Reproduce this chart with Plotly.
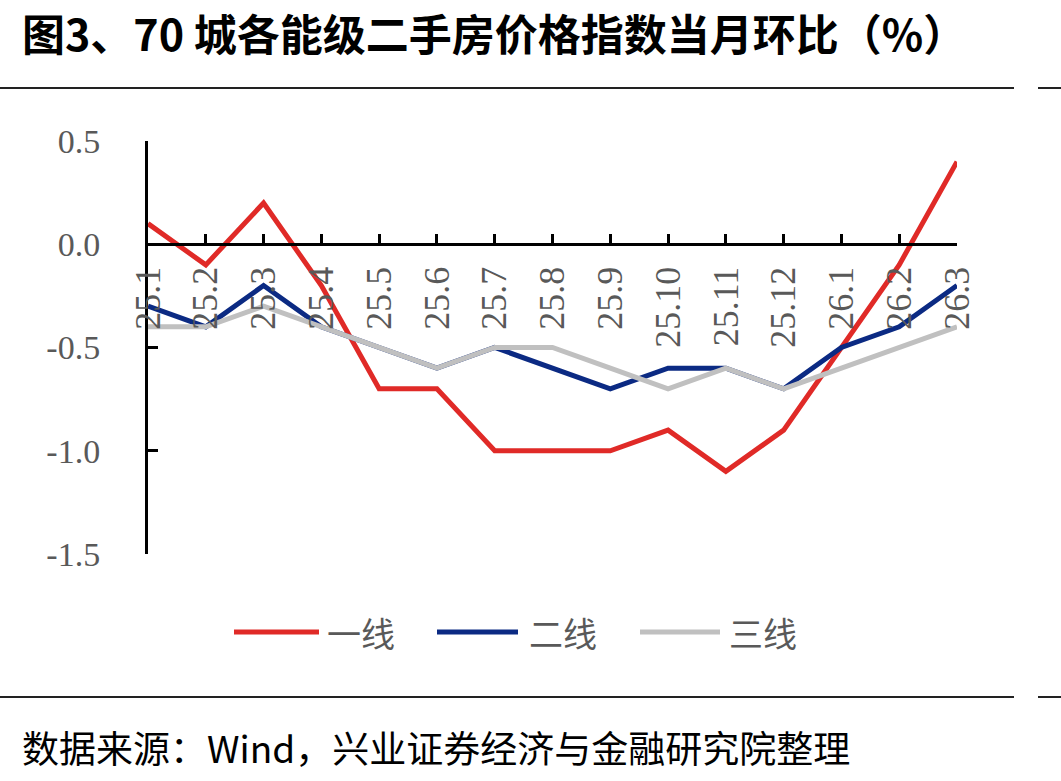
import plotly.graph_objects as go

categories = ["25.1", "25.2", "25.3", "25.4", "25.5", "25.6", "25.7", "25.8",
              "25.9", "25.10", "25.11", "25.12", "26.1", "26.2", "26.3"]
tier1 = [0.1, -0.1, 0.2, -0.2, -0.7, -0.7, -1.0, -1.0, -1.0, -0.9, -1.1, -0.9, -0.5, -0.1, 0.4]
tier2 = [-0.3, -0.4, -0.2, -0.4, -0.5, -0.6, -0.5, -0.6, -0.7, -0.6, -0.6, -0.7, -0.5, -0.4, -0.2]
tier3 = [-0.4, -0.4, -0.3, -0.4, -0.5, -0.6, -0.5, -0.5, -0.6, -0.7, -0.6, -0.7, -0.6, -0.5, -0.4]
series_names = ["一线", "二线", "三线"]
series_colors = ["#E02A27", "#0B2A83", "#C0C0C0"]
y_tickvals = [-1.5, -1.0, -0.5, 0.0, 0.5]
y_ticktext = ["-1.5", "-1.0", "-0.5", "0.0", "0.5"]

W, H = 1061, 781
L, R, T, B = 148, 957, 141, 554  # plot area in px

def px(x):
    return (x - L) / (R - L)

def py(y):
    return (B - y) / (B - T)

fig = go.Figure()
xs = list(range(len(categories)))
for vals, name, col in zip([tier1, tier2, tier3], series_names, series_colors):
    fig.add_trace(go.Scatter(x=xs, y=vals, mode="lines", name=name,
                             line=dict(color=col, width=5), showlegend=False))

tick_font = dict(family="Liberation Serif, Times New Roman, serif", color="#595959")

fig.update_layout(
    width=W, height=H,
    margin=dict(l=L, r=W - R, t=T, b=H - B),
    paper_bgcolor="white", plot_bgcolor="white",
    xaxis=dict(
        range=[0, len(categories) - 1],
        tickvals=xs, ticktext=categories,
        tickangle=-90,
        anchor="free", position=0.75,
        showline=True, linecolor="black", linewidth=3,
        ticks="inside", ticklen=9, tickwidth=3, tickcolor="black",
        showgrid=False, zeroline=False,
        tickfont=dict(size=36, **tick_font),
        ticklabelstandoff=6,
    ),
    yaxis=dict(
        range=[-1.5, 0.5], domain=[0, 1],
        tickvals=y_tickvals, ticktext=y_ticktext,
        showline=True, linecolor="black", linewidth=3,
        ticks="inside", ticklen=10, tickwidth=3, tickcolor="black",
        showgrid=False, zeroline=False,
        tickfont=dict(size=34, **tick_font),
        ticklabelstandoff=38,
    ),
)

# custom legend
legend_items = [(234, 319, 325), (437, 518, 527), (640, 720, 727)]
for (x0, x1, tx), name, col in zip(legend_items, series_names, series_colors):
    fig.add_shape(type="line", xref="paper", yref="paper",
                  x0=px(x0), x1=px(x1), y0=py(632), y1=py(632),
                  line=dict(color=col, width=5))
    fig.add_annotation(xref="paper", yref="paper", x=px(tx), y=py(632),
                       text=name, showarrow=False, xanchor="left", yanchor="middle",
                       font=dict(family="Noto Sans CJK SC", size=34, color="#595959"))

# horizontal rules
for yy in (88, 697):
    for a, b in ((0, 1014), (1038, 1061)):
        fig.add_shape(type="line", xref="paper", yref="paper",
                      x0=px(a), x1=px(b), y0=py(yy), y1=py(yy),
                      line=dict(color="#222222", width=2))

fig.add_annotation(xref="paper", yref="paper", x=px(20), y=py(32),
                   text="<b>图3、70 城各能级二手房价格指数当月环比（%）</b>",
                   showarrow=False, xanchor="left", yanchor="middle",
                   font=dict(family="Noto Sans CJK SC", size=43, color="black"))
fig.add_annotation(xref="paper", yref="paper", x=px(20), y=py(747),
                   text="数据来源：Wind，兴业证券经济与金融研究院整理",
                   showarrow=False, xanchor="left", yanchor="middle",
                   font=dict(family="Noto Sans CJK SC", size=37, color="black"))

fig.write_html("out.html")
